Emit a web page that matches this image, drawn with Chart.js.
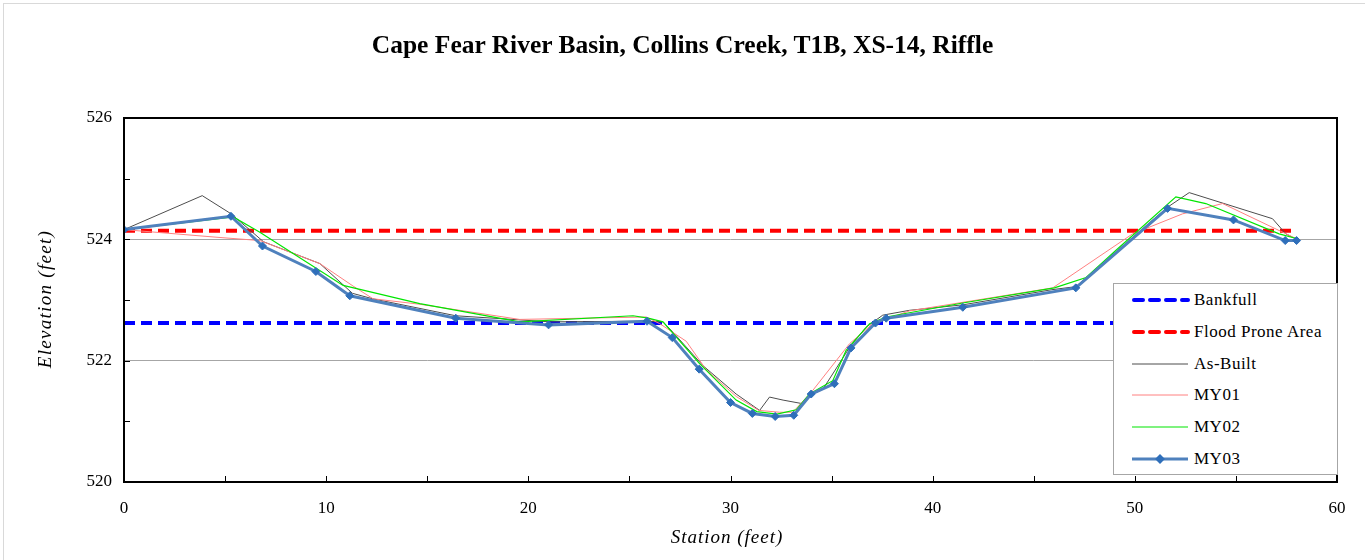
<!DOCTYPE html>
<html>
<head>
<meta charset="utf-8">
<script src="https://cdn.jsdelivr.net/npm/chart.js@4"></script>
<style>
    body { margin: 0; background: #fff; }
    #wrap { position: relative; width: 1365px; height: 560px; overflow: hidden; }
    #frame { position: absolute; left: 3px; top: 3px; width: 1400px; height: 600px;
             border-left: 1px solid #d9d9d9; border-top: 1px solid #d9d9d9; }
    canvas { position: absolute; left: 0; top: 0; }
    #title { position: absolute; left: 0; width: 1365px; top: 30px; line-height: 30px; text-align: center;
             font: bold 25.5px "Liberation Serif", "Times New Roman", serif; color: #000; }
    #xtitle { position: absolute; left: 527px; width: 400px; top: 526px; line-height: 24px; text-align: center;
              font: italic 19px "Liberation Serif", "Times New Roman", serif; letter-spacing: 1px; color: #000; }
    #ytitle { position: absolute; left: -105px; width: 300px; top: 288px; line-height: 24px; text-align: center;
              font: italic 19px "Liberation Serif", "Times New Roman", serif; letter-spacing: 1.3px; color: #000;
              transform: rotate(-90deg); }
    #legend { position: absolute; left: 1113px; top: 283px; width: 223px; height: 190px;
              border: 1px solid #a6a6a6; background: #fff;
              font: 17px "Liberation Serif", "Times New Roman", serif; letter-spacing: 0.5px; color: #000; }
    .item { position: absolute; left: 0; height: 20px; }
    .item svg { position: absolute; left: 17px; top: 4px; }
    .item span { position: absolute; left: 80px; top: 0; white-space: nowrap; line-height: 20px; }
</style>
</head>
<body>
<div id="wrap">
    <div id="frame"></div>
    <canvas id="xs-chart" width="1365" height="560"></canvas>
    <div id="title">Cape Fear River Basin, Collins Creek, T1B, XS-14, Riffle</div>
    <div id="xtitle">Station (feet)</div>
    <div id="ytitle">Elevation (feet)</div>
    <div id="legend"></div>
</div>
<script>
// axis ticks
const xTickLabels = [0, 10, 20, 30, 40, 50, 60];
const yTickLabels = [520, 522, 524, 526];

// reference lines
const bankfullStation = [0, 58];
const bankfullElev = [522.62, 522.62];
const floodStation = [0, 58];
const floodElev = [524.14, 524.14];

// survey series
const asBuiltStation = [0, 3.87, 5.3, 6.9, 9.69, 11.3, 12.3, 16.41, 21.06, 25.83, 26.66, 27.15, 28.63, 30.28, 31.44, 31.93, 32.6, 33.58, 34.07, 34.57, 35.15, 35.89, 36.7, 37.53, 38.85, 41.49, 45.9, 47.08, 51.62, 52.69, 56.81, 57.47, 58.0];
const asBuiltElev = [524.16, 524.72, 524.42, 523.96, 523.60, 523.11, 523.02, 522.74, 522.64, 522.65, 522.64, 522.47, 521.92, 521.45, 521.18, 521.40, 521.35, 521.29, 521.45, 521.53, 521.83, 522.22, 522.55, 522.75, 522.83, 522.92, 523.17, 523.22, 524.53, 524.77, 524.34, 524.09, 524.0];

const my01Station = [0, 4.75, 6.72, 9.69, 11.33, 12.32, 14.63, 19.57, 25.83, 26.5, 27.81, 28.8, 30.28, 31.4, 32.43, 33.08, 34.07, 35.89, 37.04, 38.85, 45.94, 49.89, 52.36, 54.34, 57.8, 58.0];
const my01Elev = [524.16, 524.03, 523.98, 523.60, 523.23, 523.02, 522.93, 522.68, 522.72, 522.61, 522.32, 521.85, 521.41, 521.18, 521.15, 521.15, 521.51, 522.28, 522.61, 522.82, 523.20, 524.09, 524.42, 524.59, 524.04, 524.01];

const my02Station = [0, 5.4, 6.7, 10.84, 14.63, 19.57, 25.18, 25.92, 26.66, 28.47, 30.28, 31.3, 32.3, 33.25, 33.91, 35.06, 35.72, 36.88, 37.70, 41.49, 46.02, 47.59, 49.07, 52.03, 53.51, 57.14, 58.03];
const my02Elev = [524.16, 524.37, 524.12, 523.24, 522.94, 522.64, 522.74, 522.70, 522.64, 521.95, 521.35, 521.16, 521.12, 521.19, 521.45, 521.67, 522.17, 522.61, 522.72, 522.95, 523.20, 523.37, 523.82, 524.70, 524.59, 524.09, 524.01];

const my03Station = [0, 5.29, 6.85, 9.49, 11.17, 16.41, 21.0, 25.87, 27.12, 28.45, 30.0, 31.08, 32.21, 33.13, 33.99, 35.14, 35.96, 37.17, 37.70, 41.49, 47.08, 51.62, 54.88, 57.44, 58.0];
const my03Elev = [524.16, 524.38, 523.89, 523.47, 523.07, 522.70, 522.59, 522.65, 522.38, 521.86, 521.31, 521.13, 521.08, 521.10, 521.45, 521.62, 522.21, 522.62, 522.70, 522.88, 523.20, 524.51, 524.32, 523.98, 523.98];

const SERIF = '"Liberation Serif", "Times New Roman", serif';

const XsChart = {
    chart: null,

    series: [
        { label: 'Bankfull', xs: bankfullStation, ys: bankfullElev, color: '#0000ff', width: 4, dash: [11, 6], order: 5 },
        { label: 'Flood Prone Area', xs: floodStation, ys: floodElev, color: '#ff0000', width: 4, dash: [11, 6], order: 4 },
        { label: 'As-Built', xs: asBuiltStation, ys: asBuiltElev, color: '#4d4d4d', width: 1, order: 3 },
        { label: 'MY01', xs: my01Station, ys: my01Elev, color: '#ff8080', width: 1, order: 2 },
        { label: 'MY02', xs: my02Station, ys: my02Elev, color: '#00e600', width: 1.2, order: 1 },
        { label: 'MY03', xs: my03Station, ys: my03Elev, color: '#4f81bd', width: 3, marker: '#2f6fba', order: 0 }
    ],

    init() {
        this.createChart();
        this.renderLegend();
    },

    buildDatasets() {
        return this.series.map(s => ({
            label: s.label,
            data: s.xs.map((x, i) => ({ x, y: s.ys[i] })),
            borderColor: s.color,
            borderWidth: s.width,
            borderDash: s.dash || [],
            pointRadius: s.marker ? 4 : 0,
            pointStyle: 'rectRot',
            pointBackgroundColor: s.marker,
            pointBorderColor: s.marker,
            pointBorderWidth: 1,
            tension: 0,
            fill: false,
            order: s.order
        }));
    },

    // plot frame and inside tick marks
    framePlugin: {
        id: 'frame',
        afterDatasetsDraw(chart) {
            const { ctx, chartArea: a, scales } = chart;
            ctx.save();
            ctx.strokeStyle = '#000';
            ctx.lineWidth = 1;
            for (let v = 520; v <= 526; v += 1) {
                const y = Math.round(scales.y.getPixelForValue(v)) + 0.5;
                ctx.beginPath();
                ctx.moveTo(a.left, y);
                ctx.lineTo(a.left + 6, y);
                ctx.stroke();
            }
            for (let v = 0; v <= 60; v += 5) {
                const x = Math.round(scales.x.getPixelForValue(v)) + 0.5;
                ctx.beginPath();
                ctx.moveTo(x, a.bottom);
                ctx.lineTo(x, a.bottom - 6);
                ctx.stroke();
            }
            ctx.lineWidth = 2;
            ctx.strokeRect(a.left, a.top, a.right - a.left, a.bottom - a.top);
            ctx.restore();
        }
    },

    createChart() {
        const ctx = document.getElementById('xs-chart').getContext('2d');

        this.chart = new Chart(ctx, {
            type: 'line',
            data: { datasets: this.buildDatasets() },
            options: {
                responsive: false,
                animation: false,
                layout: { padding: { left: 0, top: 118, right: 28, bottom: 0 } },
                plugins: {
                    legend: { display: false },
                    title: { display: false },
                    tooltip: { enabled: false }
                },
                scales: {
                    x: {
                        type: 'linear',
                        min: 0,
                        max: 60,
                        afterFit: scale => { scale.height = 78; },
                        border: { display: false },
                        grid: { display: false, drawTicks: false },
                        ticks: {
                            stepSize: 5,
                            padding: 16,
                            maxRotation: 0,
                            autoSkip: false,
                            color: '#000',
                            font: { family: SERIF, size: 17 },
                            callback: v => xTickLabels.includes(v) ? v : ''
                        }
                    },
                    y: {
                        min: 520,
                        max: 526,
                        afterFit: scale => { scale.width = 124; },
                        border: { display: false },
                        grid: {
                            drawTicks: false,
                            lineWidth: 1,
                            color: c => (c.tick.value === 522 || c.tick.value === 524) ? '#a6a6a6' : 'transparent'
                        },
                        ticks: {
                            stepSize: 1,
                            padding: 12,
                            autoSkip: false,
                            color: '#000',
                            font: { family: SERIF, size: 17 },
                            callback: v => yTickLabels.includes(v) ? v : ''
                        }
                    }
                }
            },
            plugins: [this.framePlugin]
        });
    },

    // legend box drawn inside the plot like the spreadsheet original
    renderLegend() {
        const box = document.getElementById('legend');
        const ns = 'http://www.w3.org/2000/svg';
        this.series.forEach((s, i) => {
            const item = document.createElement('div');
            item.className = 'item';
            item.style.top = (6 + i * 31.8) + 'px';

            const svg = document.createElementNS(ns, 'svg');
            svg.setAttribute('width', '60');
            svg.setAttribute('height', '12');
            const line = document.createElementNS(ns, 'line');
            line.setAttribute('x1', s.dash ? '3' : '1');
            line.setAttribute('x2', '57');
            line.setAttribute('y1', '6');
            line.setAttribute('y2', '6');
            line.setAttribute('stroke', s.color);
            line.setAttribute('stroke-width', s.width);
            if (s.dash) {
                line.setAttribute('stroke-dasharray', '9 7');
                line.setAttribute('stroke-linecap', 'round');
            }
            svg.appendChild(line);
            if (s.marker) {
                const d = document.createElementNS(ns, 'rect');
                d.setAttribute('x', '25.5');
                d.setAttribute('y', '2.5');
                d.setAttribute('width', '7');
                d.setAttribute('height', '7');
                d.setAttribute('fill', s.marker);
                d.setAttribute('transform', 'rotate(45 29 6)');
                svg.appendChild(d);
            }
            item.appendChild(svg);

            const label = document.createElement('span');
            label.textContent = s.label;
            item.appendChild(label);
            box.appendChild(item);
        });
    }
};

XsChart.init();
</script>
</body>
</html>
